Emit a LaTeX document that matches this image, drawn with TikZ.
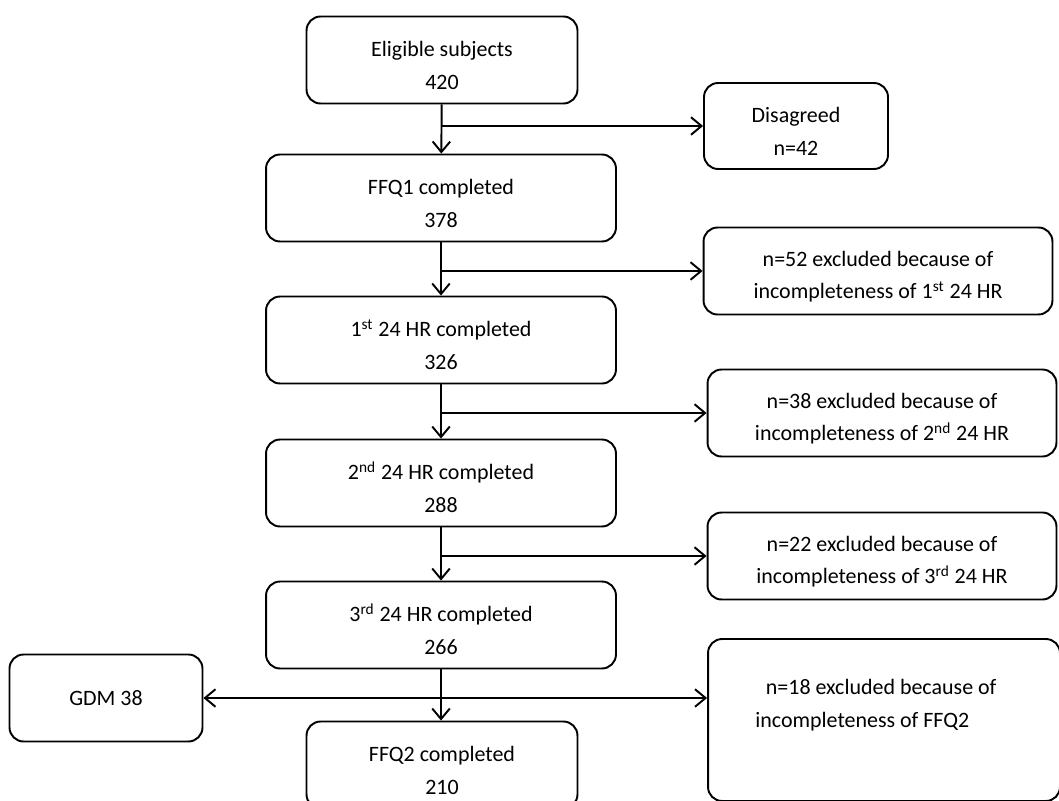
\documentclass[tikz,border=0pt]{standalone}
\usepackage{fontspec}
\setmainfont{Carlito}
\usetikzlibrary{arrows.meta}
\tikzset{
  flowbox/.style={draw, line width=1.1pt, rounded corners=8pt, align=center,
    font=\fontsize{12.5}{18.5}\selectfont},
  mainbox/.style={flowbox, minimum width=7cm, minimum height=1.74cm},
  smallbox/.style={flowbox, minimum width=5.42cm, minimum height=1.74cm},
  sidebox/.style={flowbox, minimum width=6.98cm, minimum height=1.74cm},
  flowarrow/.style={line width=1.1pt, -{Straight Barb[length=6pt,width=10pt]}}
}

\begin{document}
\begin{tikzpicture}[x=0.02cm,y=-0.02cm]
  \useasboundingbox (0,0) rectangle (1059,801);

  % main column
  \node[smallbox] (eligible) at (442,60) {\rule{0pt}{15pt}Eligible subjects\\420};
  \node[mainbox] (ffqone) at (441,198) {\rule{0pt}{15pt}FFQ1 completed\\378};
  \node[mainbox] (hrone) at (441,340) {\rule{0pt}{15pt}1\textsuperscript{st} 24 HR completed\\326};
  \node[mainbox] (hrtwo) at (441,483) {\rule{0pt}{15pt}2\textsuperscript{nd} 24 HR completed\\288};
  \node[mainbox] (hrthree) at (441,625) {\rule{0pt}{15pt}3\textsuperscript{rd} 24 HR completed\\266};
  \node[smallbox] (ffqtwo) at (442,765) {\rule{0pt}{15pt}FFQ2 completed\\210};

  % exclusions
  \node[flowbox, minimum width=3.68cm, minimum height=1.72cm] (disagreed) at (796,126) {\rule{0pt}{15pt}Disagreed\\n=42};
  \node[sidebox] (exclone) at (878,271) {\rule{0pt}{15pt}n=52 excluded because of\\incompleteness of 1\textsuperscript{st} 24 HR};
  \node[sidebox] (excltwo) at (882,413) {\rule{0pt}{15pt}n=38 excluded because of\\incompleteness of 2\textsuperscript{nd} 24 HR};
  \node[sidebox] (exclthree) at (882,556) {\rule{0pt}{15pt}n=22 excluded because of\\incompleteness of 3\textsuperscript{rd} 24 HR};
  \node[flowbox, minimum width=7.04cm, minimum height=3.24cm] (exclffq) at (884,720) {};
  \node[anchor=base west, inner sep=0pt, align=left, font=\fontsize{12.5}{18.5}\selectfont]
    (exclffqtext) at (755,727) {\hspace*{6pt}n=18 excluded because of\\incompleteness of FFQ2};
  \node[flowbox, minimum width=3.86cm, minimum height=1.74cm] (gdm) at (106,698) {GDM 38};

  % connectors
  \draw[flowarrow] (eligible) -- (ffqone);
  \draw[flowarrow] (eligible.south |- disagreed.west) -- (disagreed.west);
  \draw[flowarrow] (ffqone) -- (hrone);
  \draw[flowarrow] (ffqone.south |- exclone.west) -- (exclone.west);
  \draw[flowarrow] (hrone) -- (hrtwo);
  \draw[flowarrow] (hrone.south |- excltwo.west) -- (excltwo.west);
  \draw[flowarrow] (hrtwo) -- (hrthree);
  \draw[flowarrow] (hrtwo.south |- exclthree.west) -- (exclthree.west);
  \draw[flowarrow] (hrthree.south) -- (hrthree.south |- ffqtwo.north);
  \coordinate (split) at (hrthree.south |- gdm.east);
  \draw[flowarrow] (split) -- (gdm.east);
  \draw[flowarrow] (split) -- (split -| exclffq.west);
\end{tikzpicture}
\end{document}
